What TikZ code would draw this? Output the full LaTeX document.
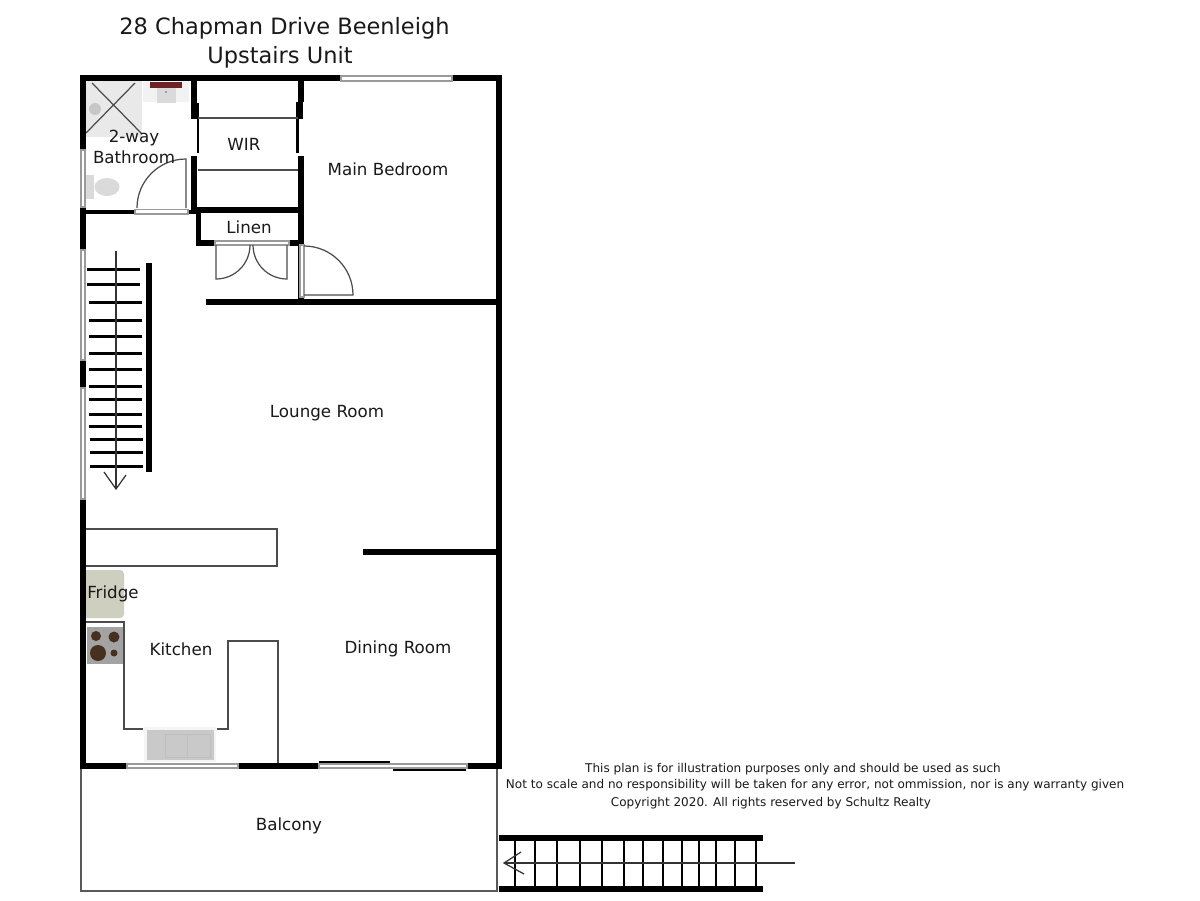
\documentclass[tikz,border=0pt]{standalone}
\usepackage{fontspec}
\setmainfont{DejaVu Sans}
\definecolor{framegray}{HTML}{9A9A9A}
\definecolor{fridgec}{HTML}{CFCFBF}
\definecolor{stovec}{HTML}{A3A3A3}
\definecolor{burnerc}{HTML}{47301E}
\definecolor{sinkc}{HTML}{C9C9C9}
\definecolor{showerc}{HTML}{E9E9E9}
\definecolor{vanityc}{HTML}{6E2222}
\definecolor{fixturec}{HTML}{DADADA}
\tikzset{
  x=0.02cm,y=-0.02cm,
  wall/.style={line width=3pt,black},
  midwall/.style={line width=3pt,black},
  thinwall/.style={line width=1.7pt,black},
  fineline/.style={line width=0.9pt,black!70},
  leaf/.style={line width=0.7pt,black!70},
  winframe/.style={draw=framegray,fill=white,line width=0.6pt},
  tread/.style={line width=1.7pt,black},
  rod/.style={line width=0.7pt,black!80},
  rung/.style={line width=1.6pt,black},
  room/.style={font=\fontsize{9.5}{11}\selectfont,text=black!90,align=center,inner sep=0pt},
  ttl/.style={font=\fontsize{12.8}{15}\selectfont,text=black!90,inner sep=0pt},
  note/.style={font=\fontsize{6.85}{8}\selectfont,text=black!90,inner sep=0pt},
}
\begin{document}
\begin{tikzpicture}
\useasboundingbox (0,0) rectangle (1200,900);
\fill[white] (0,0) rectangle (1200,900);
% fixtures
\fill[showerc] (86,81) rectangle (142,137);
\fill[black!22] (95,109) circle (6);
\draw[leaf] (92,83) -- (142,134) (135,83) -- (86,133);
\fill[black!5] (143,82) rectangle (189,102);
\fill[fixturec] (157,88) rectangle (176,103);
\fill[vanityc] (150,82) rectangle (182,88);
\fill[black!60] (166,92) circle (0.8);
\fill[fixturec] (86,175) rectangle (94,199);
\fill[fixturec] (107,187) ellipse (12.5 and 9);
\fill[fridgec] (86,570) -- (120,570) arc (-90:0:4) -- (124,614) arc (0:90:4) -- (86,618) -- cycle;
\fill[stovec] (87,627) rectangle (123,664);
\fill[burnerc] (96,636) circle (5) (114,637) circle (5.5) (98,653) circle (8) (114,653) circle (3.5);
\fill[black!4] (144,727) rectangle (216,762);
\fill[sinkc] (147,730) rectangle (214,760);
\draw[black!25,line width=0.5pt] (165,734) rectangle (210,757) (187,734) -- (187,757);
% counters
\draw[fineline] (85,529) -- (277,529) -- (277,566) -- (85,566);
\draw[fineline] (86,622) -- (124,622) -- (124,729) -- (143,729);
\draw[fineline] (217,729) -- (228,729) -- (228,641) -- (278,641) -- (278,764);
% balcony
\draw[line width=0.9pt,black!65] (81,768) -- (81,891) -- (497,891) -- (497,768);
% outer walls
\draw[wall,line cap=rect] (83,78) -- (499,78) -- (499,766) -- (83,766) -- cycle;
% inner walls
\draw[midwall] (194,78) -- (194,119) (194,156) -- (194,212);
\draw[thinwall] (198,103) -- (198,153);
\draw[midwall] (301,78) -- (301,102);
\draw[line width=3.6pt,black] (299.5,102) -- (299.5,119);
\draw[midwall] (301,156) -- (301,302);
\draw[thinwall] (297.6,119) -- (297.6,153);
\draw[line width=0.8pt,black!70] (198,118) -- (298,118) (198,170) -- (298,170);
\draw[line width=2.6pt,black] (83,212) -- (196,212);
\draw[line width=3pt,black] (191,210) -- (303,210);
\draw[midwall] (198.5,208) -- (198.5,243) -- (303,243);
\draw[wall] (206,302) -- (501,302);
\draw[wall] (363,552) -- (499,552);
% windows and door frames
\draw[winframe] (81,150) rectangle (85,207);
\draw[winframe] (81,250) rectangle (85,360);
\draw[winframe] (81,388) rectangle (85,499);
\draw[winframe] (341,76) rectangle (452,81);
\draw[winframe] (127,764) rectangle (238,768);
\draw[winframe] (319,764) rectangle (467,768);
\draw[line width=1.4pt,black] (319,762) -- (390,762) (393,770) -- (466,770);
\draw[winframe] (135,209.5) rectangle (188,214);
\draw[winframe] (215,241) rectangle (289,245);
\draw[winframe] (300,245) rectangle (304,297);
% doors
\draw[leaf] (137,208) arc (180:270:49) -- (186,208);
\draw[leaf] (216,245) -- (216,279) arc (90:0:34);
\draw[leaf] (287,245) -- (287,279) arc (90:180:34);
\draw[leaf] (304,246) arc (-90:0:49) -- (304,295);
% inner stair
\foreach \yy/\xa in {269/87,284/87,302/89,320/89,336/89,353/89,369/89,386/89,399/89,414/89,426/89,439/90,452/90,466/90}
  \draw[tread] (\xa,\yy) -- ++(53,0);
\draw[line width=3.2pt,black] (149,263) -- (149,472);
\draw[rod] (116,251) -- (116,489);
\draw[rod] (104,472) -- (116,489) -- (126,475);
% outer stair
\draw[wall] (499,838) -- (763,838) (499,889) -- (763,889);
\foreach \xx in {515,535,557,580,602,624,643,663,682,699,716,735,756}
  \draw[rung] (\xx,836) -- (\xx,889);
\draw[rod] (504,863) -- (795,863);
\draw[rod] (521,852) -- (504,863) -- (524,874);
% labels
\node[ttl] (title1) at (284.5,28) {28 Chapman Drive Beenleigh};
\node[ttl] (title2) at (280,57) {Upstairs Unit};
\node[room] (bath) at (134,147) {2-way\\[1pt]Bathroom};
\node[room] (wir) at (244,144) {WIR};
\node[room] (bed) at (388,169) {Main Bedroom};
\node[room] (linen) at (249,227) {Linen};
\node[room] (lounge) at (327,413) {Lounge Room};
\node[room] (fridge) at (113,594) {Fridge};
\node[room] (kitchen) at (181,649) {Kitchen};
\node[room] (dining) at (398,649) {Dining Room};
\node[room] (balcony) at (289,826) {Balcony};
\node[note] (n1) at (793,769) {This plan is for illustration purposes only and should be used as such};
\node[note] (n2) at (815,785.5) {Not to scale and no responsibility will be taken for any error, not ommission, nor is any warranty given};
\node[note] (n3) at (771,803) {Copyright 2020.  All rights reserved by Schultz Realty};
\end{tikzpicture}
\end{document}
